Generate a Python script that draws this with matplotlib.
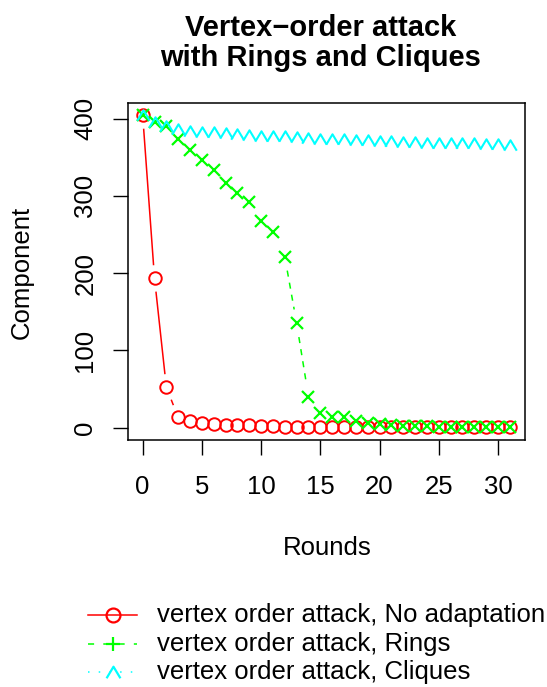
import numpy as np
import matplotlib
matplotlib.use("Agg")
import matplotlib.pyplot as plt
from matplotlib.path import Path
from matplotlib.lines import Line2D

plt.rcParams['font.family'] = ['Liberation Sans', 'DejaVu Sans']

rounds = list(range(32))
no_adapt = [404, 193, 52, 13, 9, 6, 5, 3, 3, 3, 2, 2, 1, 1, 1, 1,
            1, 1, 1, 1, 1, 1, 1, 1, 1, 1, 1, 1, 1, 1, 1, 1]
rings = [404, 395, 391, 374, 359, 346, 333, 317, 303, 292, 268, 253, 221, 135, 40, 19,
         13, 13, 8, 6, 4, 3, 2, 2, 2, 1, 1, 1, 1, 1, 1, 1]
cliques = [404, 396, 391, 386, 384, 383, 382, 381, 380, 379, 378, 377, 377, 376, 375, 374,
           373, 373, 372, 372, 371, 371, 370, 370, 369, 369, 368, 368, 368, 367, 367, 366]
labels = ["vertex order attack, No adaptation", "vertex order attack, Rings",
          "vertex order attack, Cliques"]
title = "Vertex\u2212order attack\nwith Rings and Cliques"

W, H = 547, 687
fig = plt.figure(figsize=(W / 100, H / 100), dpi=100)
L, R, T, B = 128, 524.5, 103, 440
ax = fig.add_axes([L / W, 1 - B / H, (R - L) / W, (B - T) / H])

xmin, xmax = 0, 31
ymin, ymax = 0, 404
dx = (xmax - xmin) * 0.04
dy = (ymax - ymin) * 0.04
ax.set_xlim(xmin - dx, xmax + dx)
ax.set_ylim(ymin - dy, ymax + dy)

caret = Path([(-0.6, -0.5), (0, 0.5), (0.6, -0.5)],
             [Path.MOVETO, Path.LINETO, Path.LINETO])

def gapped(xs, ys, color, ls, gap=14):
    pts = ax.transData.transform(np.column_stack([xs, ys]))
    inv = ax.transData.inverted()
    for i in range(len(pts) - 1):
        p0, p1 = pts[i], pts[i + 1]
        d = p1 - p0
        n = np.hypot(*d)
        if n <= 2 * gap:
            continue
        u = d / n
        a = inv.transform(p0 + u * gap)
        b = inv.transform(p1 - u * gap)
        ax.plot([a[0], b[0]], [a[1], b[1]], color=color, ls=ls, lw=1.1)

gapped(rounds, no_adapt, '#FF0000', '-')
gapped(rounds, rings, '#00FF00', (0, (4, 4)))
gapped(rounds, cliques, '#00FFFF', (0, (1, 3)))

ax.plot(rounds, no_adapt, ls='none', marker='o', ms=9, mfc='none',
        mec='#FF0000', mew=1.4)
ax.plot(rounds, rings, ls='none', marker='x', ms=8, mec='#00FF00', mew=1.6)
ax.plot(rounds, cliques, ls='none', marker=caret, ms=9, mfc='none',
        mec='#00FFFF', mew=1.5)

FS = 18.5
ax.set_xticks([0, 5, 10, 15, 20, 25, 30])
ax.set_yticks([0, 100, 200, 300, 400])
ax.tick_params(axis='both', length=11, width=1, labelsize=FS, color='black')
ax.tick_params(axis='x', pad=14)
ax.tick_params(axis='y', pad=11)
for t in ax.get_yticklabels():
    t.set_rotation(90)
    t.set_va('center')
for s in ax.spines.values():
    s.set_linewidth(1.1)

fig.text(321 / W, 1 - 43 / H, title, ha='center', va='center',
         fontsize=21, fontweight='bold', linespacing=1.1)
fig.text(327 / W, 1 - 548 / H, "Rounds", ha='center', va='center', fontsize=FS)
fig.text(22 / W, 1 - 272 / H, "Component", ha='center', va='center',
         fontsize=FS, rotation=90)

# legend
rows = [615, 644, 672]
styles = [('#FF0000', '-', 'o', 'none'), ('#00FF00', (0, (4, 6)), '+', '#00FF00'),
          ('#00FFFF', (0, (1, 6)), caret, 'none')]
for yy, lab, (c, ls, mk, mf) in zip(rows, labels, styles):
    yf = 1 - yy / H
    fig.add_artist(Line2D([88 / W, 137 / W], [yf, yf], color=c, ls=ls, lw=1.1,
                          transform=fig.transFigure))
    fig.add_artist(Line2D([113 / W], [yf], marker=mk, ms=10, mfc='none', mec=c,
                          mew=1.6, ls='none', transform=fig.transFigure))
    fig.text(157 / W, yf, lab, ha='left', va='center', fontsize=FS)

fig.savefig("out.png", dpi=100)
